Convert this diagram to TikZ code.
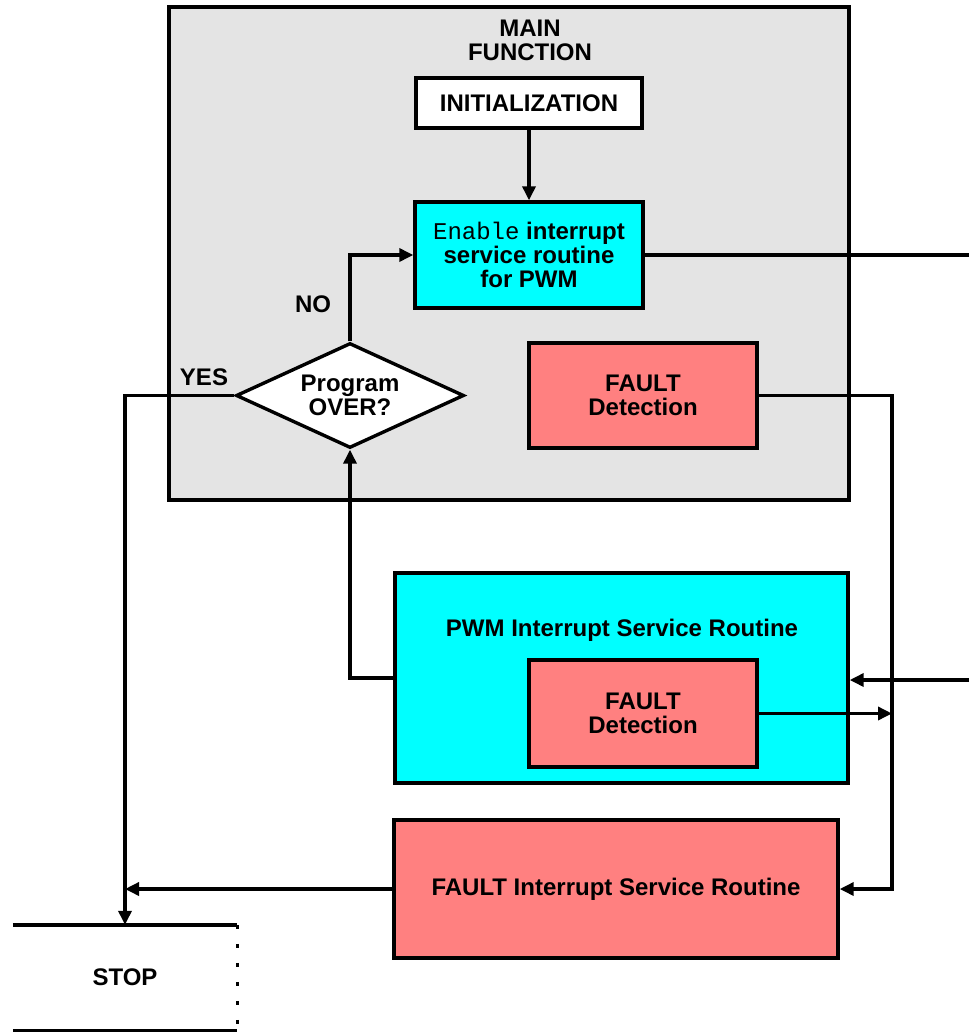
\documentclass[tikz,border=0pt]{standalone}
\usepackage{fontspec}
\setmainfont{Liberation Sans}
\newfontfamily\monofont{Liberation Mono}
\usetikzlibrary{arrows.meta,shapes.geometric,calc}
\definecolor{mainbg}{HTML}{E4E4E4}
\definecolor{isrcyan}{HTML}{00FFFF}
\definecolor{faultred}{HTML}{FF8080}
\tikzset{
  every node/.style={font=\fontsize{24}{24}\selectfont\bfseries, align=center, inner sep=0pt},
  blk/.style={draw, line width=3.4pt, rectangle},
  conn/.style={line width=3.4pt},
  arr/.style={conn, -{Triangle[length=14pt,width=13pt]}},
}
\begin{document}
\begin{tikzpicture}[x=1pt,y=-1pt]
\useasboundingbox (0,0) rectangle (969,1032);

% main function frame
\node[blk, fill=mainbg, minimum width=680pt, minimum height=493pt] (main) at (509,253.5) {};
\node (maintitle) at (530,40) {MAIN\\FUNCTION};

\node[blk, fill=white, minimum width=226pt, minimum height=50pt] (init) at (529,103) {INITIALIZATION};
\node[blk, fill=isrcyan, minimum width=228pt, minimum height=106pt] (enable) at (529,255)
  {{\monofont\mdseries Enable} interrupt\\service routine\\for PWM};
\node[draw, line width=3.4pt, fill=white, diamond, aspect=2.17, minimum width=228pt, minimum height=105pt] (over) at (350,395.5) {Program\\OVER?};
\node[blk, fill=faultred, minimum width=228pt, minimum height=105pt] (fault1) at (643,395.5) {FAULT\\Detection};

\node (no) at (313,304) {NO};
\node (yes) at (204,377) {YES};

% PWM interrupt service routine
\node[blk, fill=isrcyan, minimum width=453pt, minimum height=210pt] (pwm) at (621.5,678) {};
\node (pwmtitle) at (622,630) {PWM Interrupt Service Routine};
\node[blk, fill=faultred, minimum width=228pt, minimum height=107pt] (fault2) at (643,713.5) {FAULT\\Detection};

% FAULT interrupt service routine
\node[blk, fill=faultred, minimum width=444pt, minimum height=138pt] (fisr) at (616,889) {FAULT Interrupt Service Routine};

% stop terminal (open on the left)
\node[minimum width=224pt, minimum height=105pt] (stop) at (125,977.5) {STOP};
\draw[conn] (stop.north west) -- (stop.north east);
\draw[conn] (stop.south west) -- (stop.south east);
\draw[line width=3.4pt, dash pattern=on 4pt off 15pt] (stop.north east) -- (stop.south east);

% connectors
\coordinate (outR) at (969,255);
\coordinate (inR) at (969,680);
\coordinate (bus) at (892,714);

\draw[arr] (init.south) -- (enable.north);
\draw[arr] (over.north) |- (enable.west);
\draw[conn] (enable.east) -- (enable.east -| outR);
\draw[arr] (over.west) -| (stop.north);
\draw[arr] (pwm.west) -| (over.south);
\draw[arr] (fault1.east) -| (fisr.east -| bus) -- (fisr.east);
\draw[arr] (inR) -- (pwm.east |- inR);
\draw[arr] (fault2.east) -- (fault2.east -| bus);
\draw[arr] (fisr.west) -- (fisr.west -| stop.north);
\end{tikzpicture}
\end{document}
